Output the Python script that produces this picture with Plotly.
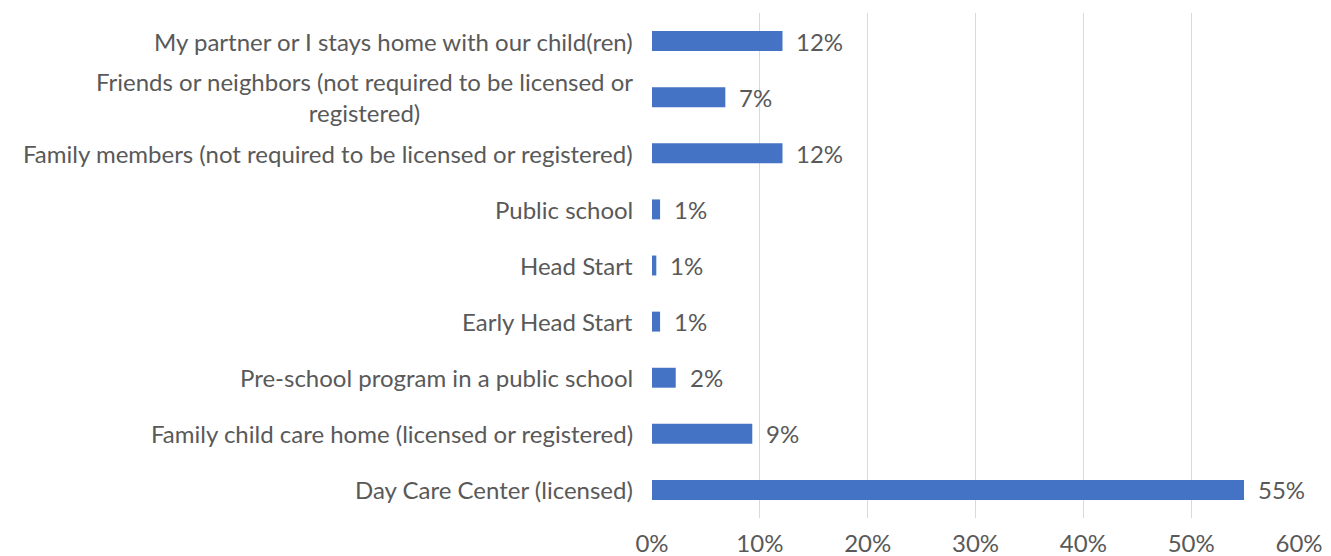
import plotly.graph_objects as go

categories = [
    "My partner or I stays home with our child(ren)",
    "Friends or neighbors (not required to be licensed or<br>registered)",
    "Family members (not required to be licensed or registered)",
    "Public school",
    "Head Start",
    "Early Head Start",
    "Pre-school program in a public school",
    "Family child care home (licensed or registered)",
    "Day Care Center (licensed)",
]
values = [12.1, 6.8, 12.1, 0.75, 0.4, 0.75, 2.2, 9.3, 54.9]
labels = ["12%", "7%", "12%", "1%", "1%", "1%", "2%", "9%", "55%"]
x_ticks = [0, 10, 20, 30, 40, 50, 60]
x_tick_text = ["0%", "10%", "20%", "30%", "40%", "50%", "60%"]

FONT = "Lato"
GRAY = "#595959"
FS = 24

fig = go.Figure()
fig.add_trace(go.Bar(
    x=values, y=categories, orientation="h",
    marker=dict(color="#4472C4", line=dict(width=0)),
    hoverinfo="skip",
))

annotations = []
for c in categories:
    annotations.append(dict(
        x=0, xref="paper", y=c, yref="y", text=c, showarrow=False,
        xanchor="right", yanchor="middle", align="center", xshift=-17,
        font=dict(family=FONT, size=FS, color=GRAY),
    ))
for c, v, t in zip(categories, values, labels):
    annotations.append(dict(
        x=v, xref="x", y=c, yref="y", text=t, showarrow=False,
        xanchor="left", yanchor="middle", xshift=12,
        font=dict(family=FONT, size=FS, color=GRAY),
    ))

fig.update_layout(
    width=1323, height=548,
    margin=dict(l=644, r=32, t=5, b=38, autoexpand=False),
    paper_bgcolor="white", plot_bgcolor="white",
    showlegend=False,
    bargap=0.645,
    annotations=annotations,
    xaxis=dict(
        range=[0, 60], tickvals=x_ticks, ticktext=x_tick_text,
        showgrid=True, gridcolor="#d9d9d9", gridwidth=1,
        zeroline=False, showline=False, ticks="",
        automargin=False,
        ticklabelstandoff=9,
        tickfont=dict(family=FONT, size=FS, color=GRAY),
        fixedrange=True,
    ),
    yaxis=dict(
        categoryorder="array", categoryarray=categories[::-1],
        showticklabels=False, showgrid=False, zeroline=False,
        showline=False, ticks="", fixedrange=True, automargin=False,
    ),
)

fig.write_html("out.html")
